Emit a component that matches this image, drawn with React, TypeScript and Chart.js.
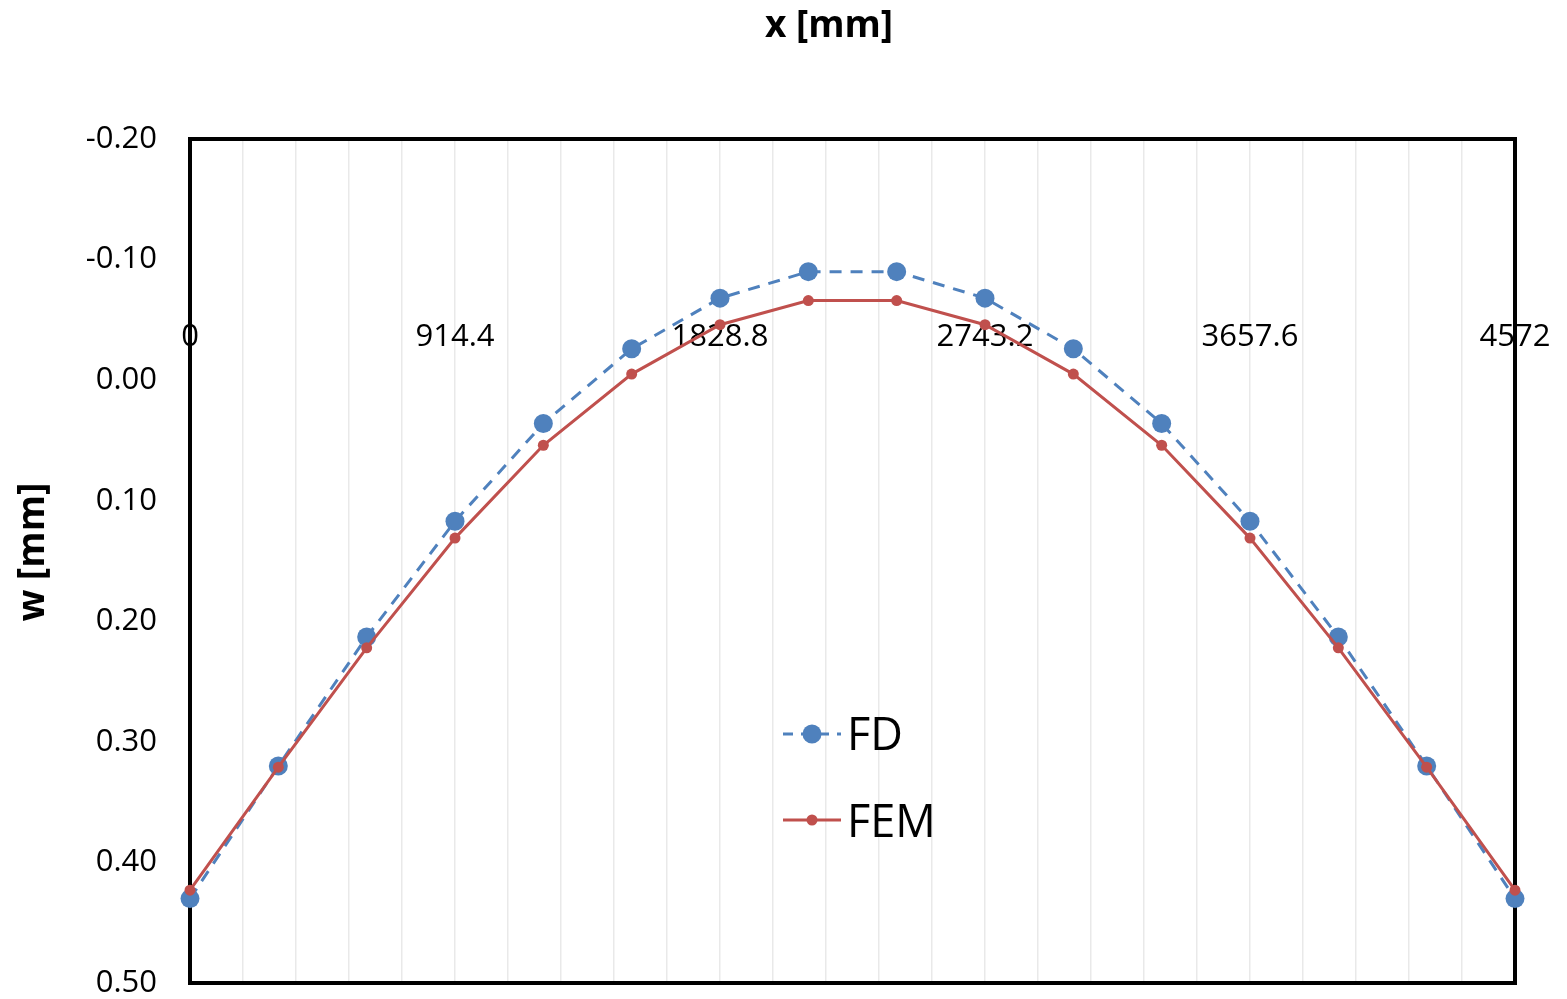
import React, { useEffect, useRef } from "react";
import { Chart, registerables } from "chart.js";

Chart.register(...registerables);

const xValues = [0, 304.8, 609.6, 914.4, 1219.2, 1524, 1828.8, 2133.6, 2438.4, 2743.2, 3048, 3352.8, 3657.6, 3962.4, 4267.2, 4572];
const fdValues = [0.43, 0.32, 0.213, 0.117, 0.036, -0.026, -0.068, -0.09, -0.09, -0.068, -0.026, 0.036, 0.117, 0.213, 0.32, 0.43];
const femValues = [0.423, 0.321, 0.222, 0.131, 0.054, -0.005, -0.046, -0.066, -0.066, -0.046, -0.005, 0.054, 0.131, 0.222, 0.321, 0.423];
const xLabelValues = [0, 914.4, 1828.8, 2743.2, 3657.6, 4572];
const xLabelTexts = ["0", "914.4", "1828.8", "2743.2", "3657.6", "4572"];
const yTickValues = [-0.2, -0.1, 0, 0.1, 0.2, 0.3, 0.4, 0.5];
const xMinorStep = 182.88;
const xMax = 4572;
const xTitle = "x [mm]";
const yTitle = "w [mm]";

const FONT = "'Open Sans', 'Liberation Sans', sans-serif";
const FD_COLOR = "#4F81BD";
const FEM_COLOR = "#C0504D";

const framePlugin = {
  id: "frameAndLabels",
  beforeDatasetsDraw(chart: any) {
    const { ctx, chartArea, scales } = chart;
    ctx.save();
    ctx.strokeStyle = "#000";
    ctx.lineWidth = 4;
    ctx.strokeRect(chartArea.left, chartArea.top, chartArea.right - chartArea.left, chartArea.bottom - chartArea.top);
    ctx.fillStyle = "#000";
    ctx.font = `31px ${FONT}`;
    ctx.textAlign = "center";
    ctx.textBaseline = "alphabetic";
    const yBase = scales.y.getPixelForValue(0) - 34;
    xLabelValues.forEach((v, i) => {
      ctx.fillText(xLabelTexts[i], scales.x.getPixelForValue(v), yBase);
    });
    ctx.restore();
  },
  afterDatasetsDraw(chart: any) {
    const { ctx } = chart;
    const items = [
      { label: "FD", color: FD_COLOR, dash: [10, 8], radius: 9.5, y: 734, base: 750 },
      { label: "FEM", color: FEM_COLOR, dash: [], radius: 5.5, y: 820, base: 837 },
    ];
    ctx.save();
    items.forEach((it) => {
      ctx.strokeStyle = it.color;
      ctx.lineWidth = 3;
      ctx.setLineDash(it.dash);
      ctx.beginPath();
      ctx.moveTo(783, it.y);
      ctx.lineTo(841, it.y);
      ctx.stroke();
      ctx.setLineDash([]);
      ctx.fillStyle = it.color;
      ctx.beginPath();
      ctx.arc(812, it.y, it.radius, 0, Math.PI * 2);
      ctx.fill();
      ctx.fillStyle = "#000";
      ctx.font = `45px ${FONT}`;
      ctx.textAlign = "left";
      ctx.textBaseline = "alphabetic";
      ctx.fillText(it.label, 847, it.base);
    });
    // axis titles
    ctx.fillStyle = "#000";
    ctx.font = `bold 37px ${FONT}`;
    ctx.textAlign = "center";
    ctx.textBaseline = "middle";
    ctx.fillText(xTitle, 829, 26);
    ctx.translate(33, 552);
    ctx.rotate(-Math.PI / 2);
    ctx.fillText(yTitle, 0, 0);
    ctx.restore();
  },
};

export default function App() {
  const ref = useRef<HTMLCanvasElement>(null);

  useEffect(() => {
    if (!ref.current) return;
    Chart.defaults.font.family = FONT;
    const chart = new Chart(ref.current, {
      type: "scatter",
      data: {
        datasets: [
          {
            label: "FD",
            data: xValues.map((x, i) => ({ x, y: fdValues[i] })),
            showLine: true,
            borderColor: FD_COLOR,
            backgroundColor: FD_COLOR,
            borderWidth: 3,
            borderDash: [12, 9],
            pointRadius: 9.5,
            pointBorderWidth: 0,
            clip: false,
            order: 2,
          },
          {
            label: "FEM",
            data: xValues.map((x, i) => ({ x, y: femValues[i] })),
            showLine: true,
            borderColor: FEM_COLOR,
            backgroundColor: FEM_COLOR,
            borderWidth: 3,
            pointRadius: 5.5,
            pointBorderWidth: 0,
            clip: false,
            order: 1,
          },
        ] as any,
      },
      options: {
        animation: false,
        responsive: false,
        events: [],
        layout: { padding: { top: 0, left: 0, right: 52, bottom: 16 } },
        plugins: { legend: { display: false }, tooltip: { enabled: false } },
        scales: {
          x: {
            type: "linear",
            position: "top",
            min: 0,
            max: xMax,
            afterBuildTicks: (s: any) => {
              const t = [];
              for (let i = 0; i * xMinorStep <= xMax + 0.01; i++) t.push({ value: i * xMinorStep });
              s.ticks = t;
            },
            afterFit: (s: any) => {
              s.height = 139;
              s.paddingLeft = 0;
              s.paddingRight = 0;
            },
            ticks: { display: false },
            grid: { color: "#e9e9e9", lineWidth: 1.5, drawTicks: false },
            border: { display: false },
            title: { display: false },
          },
          y: {
            type: "linear",
            reverse: true,
            min: -0.2,
            max: 0.5,
            afterBuildTicks: (s: any) => {
              s.ticks = yTickValues.map((v) => ({ value: v }));
            },
            afterFit: (s: any) => {
              s.width = 190;
              s.paddingTop = 0;
              s.paddingBottom = 0;
            },
            ticks: {
              color: "#000",
              font: { family: FONT, size: 31 },
              padding: 33,
              callback: (v: any) => Number(v).toFixed(2),
            },
            grid: { display: false, drawTicks: false },
            border: { display: false },
            title: { display: false },
          },
        },
      } as any,
      plugins: [framePlugin],
    });
    return () => chart.destroy();
  }, []);

  return (
    <div style={{ position: "fixed", left: 0, top: 0, width: 1567, height: 999, background: "#fff" }}>
      <canvas ref={ref} width={1567} height={999} style={{ width: 1567, height: 999 }} />
    </div>
  );
}
